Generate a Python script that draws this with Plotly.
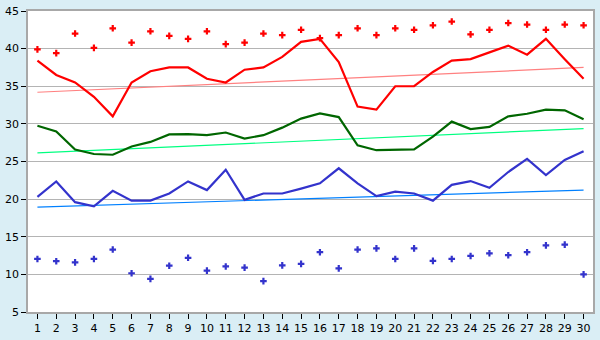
import plotly.graph_objects as go

days = list(range(1, 31))

upper_max = [39.9, 39.4, 42.0, 40.1, 42.7, 40.8, 42.3, 41.7, 41.3, 42.3,
             40.6, 40.8, 42.0, 41.8, 42.5, 41.4, 41.8, 42.7, 41.8, 42.7,
             42.5, 43.1, 43.6, 41.9, 42.5, 43.4, 43.2, 42.5, 43.2, 43.1]
upper_mean = [38.4, 36.5, 35.5, 33.6, 31.0, 35.5, 37.0, 37.5, 37.5, 36.0,
              35.5, 37.2, 37.5, 38.9, 40.9, 41.3, 38.2, 32.3, 31.9, 35.0,
              35.0, 36.9, 38.4, 38.6, 39.5, 40.4, 39.2, 41.3, 38.6, 36.0]
mid_mean = [29.75, 29.0, 26.6, 26.0, 25.9, 27.0, 27.6, 28.6, 28.65, 28.5,
            28.85, 28.05, 28.5, 29.5, 30.7, 31.4, 30.9, 27.15, 26.5, 26.6,
            26.6, 28.3, 30.3, 29.3, 29.6, 31.0, 31.35, 31.9, 31.8, 30.6]
lower_mean = [20.3, 22.35, 19.6, 19.05, 21.1, 19.8, 19.8, 20.75, 22.35, 21.2,
              23.9, 19.9, 20.75, 20.75, 21.4, 22.1, 24.1, 22.1, 20.4, 21.0,
              20.75, 19.8, 21.9, 22.4, 21.5, 23.6, 25.35, 23.2, 25.2, 26.35]
lower_min = [12.05, 11.75, 11.6, 12.05, 13.3, 10.15, 9.4, 11.15, 12.2, 10.5,
             11.05, 10.9, 9.1, 11.2, 11.4, 12.95, 10.8, 13.3, 13.45, 12.05,
             13.45, 11.8, 12.05, 12.45, 12.8, 12.55, 12.95, 13.85, 13.95, 10.0]

trend_x = [1, 30]
upper_trend = [34.2, 37.5]
mid_trend = [26.15, 29.37]
lower_trend = [18.95, 21.2]

y_ticks = [5, 10, 15, 20, 25, 30, 35, 40, 45]

fig = go.Figure()

fig.add_trace(go.Scatter(x=trend_x, y=upper_trend, mode="lines",
                         line=dict(color="#ff8080", width=1.2)))
fig.add_trace(go.Scatter(x=trend_x, y=mid_trend, mode="lines",
                         line=dict(color="#00ff80", width=1.2)))
fig.add_trace(go.Scatter(x=trend_x, y=lower_trend, mode="lines",
                         line=dict(color="#0080ff", width=1.2)))

fig.add_trace(go.Scatter(x=days, y=upper_mean, mode="lines",
                         line=dict(color="#ff0000", width=2.2)))
fig.add_trace(go.Scatter(x=days, y=mid_mean, mode="lines",
                         line=dict(color="#006600", width=2.2)))
fig.add_trace(go.Scatter(x=days, y=lower_mean, mode="lines",
                         line=dict(color="#3333cc", width=2.2)))

fig.add_trace(go.Scatter(x=days, y=upper_max, mode="markers",
                         marker=dict(symbol="cross", size=5.5, color="#ff0000",
                                     line=dict(width=0))))
fig.add_trace(go.Scatter(x=days, y=lower_min, mode="markers",
                         marker=dict(symbol="cross", size=5.5, color="#3333cc",
                                     line=dict(width=0))))

fig.update_layout(
    width=600, height=340,
    margin=dict(l=20, r=5, t=5, b=20),
    paper_bgcolor="#daeef5",
    plot_bgcolor="#ffffff",
    showlegend=False,
    hovermode=False,
    font=dict(family="DejaVu Sans", size=11, color="#000000"),
    xaxis=dict(
        range=[0.5, 30.5], tickmode="array", tickvals=days,
        ticktext=[str(d) for d in days],
        showgrid=False, zeroline=False,
        showline=True, linecolor="#a8a8a8", linewidth=1.5, mirror=True,
        ticks="outside", ticklen=5, tickcolor="#000000", tickwidth=1,
        tickfont=dict(family="DejaVu Sans", size=11),
    ),
    yaxis=dict(
        range=[5, 45], tickmode="array", tickvals=y_ticks,
        showgrid=True, gridcolor="#b4b4b4", gridwidth=1, zeroline=False,
        showline=True, linecolor="#a8a8a8", linewidth=1.5, mirror=True,
        ticks="outside", ticklen=5, tickcolor="#000000", tickwidth=1,
        tickfont=dict(family="DejaVu Sans", size=11),
    ),
)

fig.write_html("out.html")
